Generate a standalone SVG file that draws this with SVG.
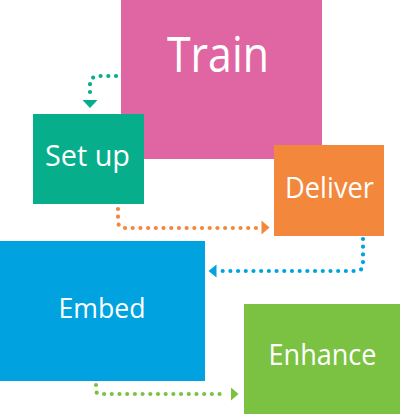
<svg xmlns="http://www.w3.org/2000/svg" width="400" height="414" viewBox="0 0 400 414">
<style>
.lbl{font-family:"Open Sans","Noto Sans","DejaVu Sans",sans-serif;fill:#ffffff;text-anchor:middle}
.dot{fill:none;stroke-width:4.2;stroke-linecap:round;stroke-dasharray:0 7.7}
</style>
<rect width="400" height="414" fill="#ffffff"/>
<g id="train"><rect x="121" y="0" width="201" height="159" fill="#E066A3"/><text class="lbl" x="218" y="72" font-size="50" textLength="102" lengthAdjust="spacingAndGlyphs">Train</text></g>
<g id="setup"><rect x="33" y="114" width="111" height="90" fill="#07AE8B"/><text class="lbl" x="87.5" y="166" font-size="30" textLength="85" lengthAdjust="spacingAndGlyphs">Set up</text></g>
<g id="deliver"><rect x="274" y="145" width="110" height="91" fill="#F3873B"/><text class="lbl" x="329.5" y="198" font-size="29" textLength="89" lengthAdjust="spacingAndGlyphs">Deliver</text></g>
<g id="embed"><rect x="0" y="241" width="205" height="140" fill="#00A3E0"/><text class="lbl" x="102" y="317.5" font-size="28" textLength="87" lengthAdjust="spacingAndGlyphs">Embed</text></g>
<g id="enhance"><rect x="244" y="304" width="156" height="110" fill="#7CC242"/><text class="lbl" x="322.5" y="364.5" font-size="29" textLength="108" lengthAdjust="spacingAndGlyphs">Enhance</text></g>
<g id="connectors">
<path class="dot" stroke="#07AE8B" d="M116 76 H99 Q90 76 90 85 V96"/>
<polygon fill="#07AE8B" points="82.5,100 97.5,100 90,108"/>
<path class="dot" stroke="#F3873B" d="M118 209 V221 Q118 228 125 228 H257"/>
<polygon fill="#F3873B" points="261.5,220.5 269.5,227.5 261.5,234.5"/>
<path class="dot" stroke="#00A3E0" d="M363 239 V264 Q363 271 356 271 H220"/>
<polygon fill="#00A3E0" points="216.5,264.5 208.5,271 216.5,277.5"/>
<path class="dot" stroke="#7CC242" d="M96 385 V390 Q96 394 100 394 H227"/>
<polygon fill="#7CC242" points="231,387.5 238.5,394 231,400.5"/>
</g>
</svg>
